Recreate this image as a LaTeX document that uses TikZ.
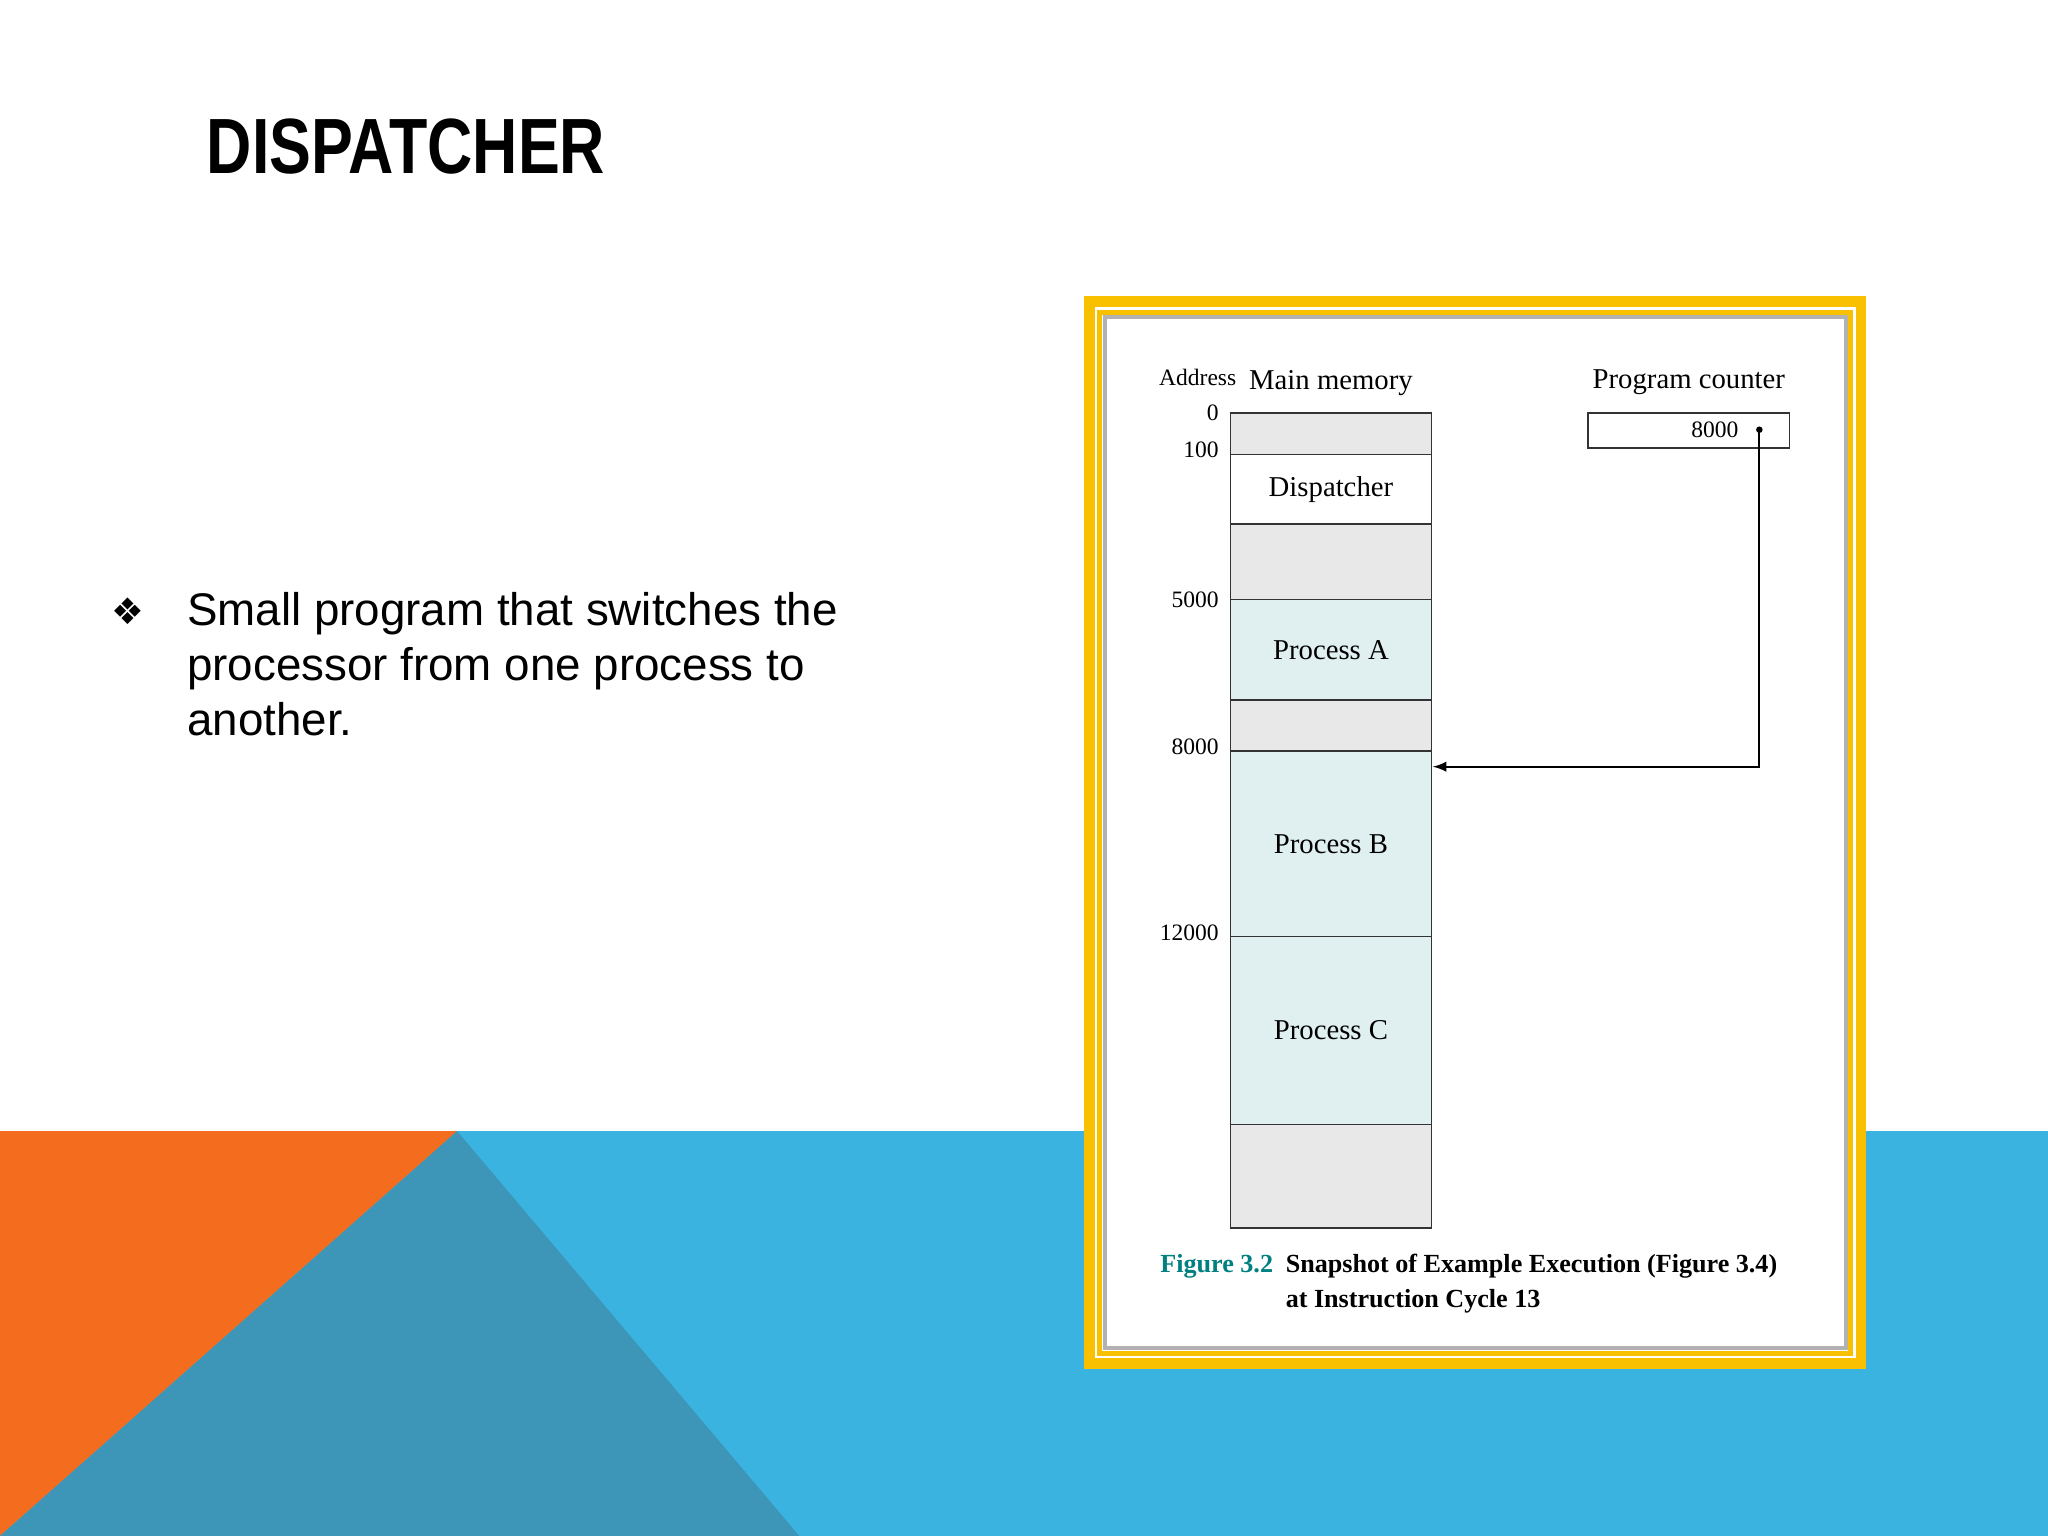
\documentclass[tikz,border=0pt]{standalone}
\usepackage{fontspec}
\setmainfont{Liberation Sans}
\newfontfamily\figfont{Liberation Serif}
\newfontfamily\symfont{DejaVu Sans}
\begin{document}
\begin{tikzpicture}[x=0.5pt,y=-0.5pt,
  mem/.style={draw=black!80,line width=0.6pt},
  gr/.style={mem,fill=gray!18},
  pr/.style={mem,fill=teal!12},
  ft/.style={font=\figfont\fontsize{11}{13}\selectfont},
  capf/.style={anchor=base west,inner sep=0pt,font=\figfont\bfseries\fontsize{10}{12}\selectfont},
  addr/.style={font=\figfont\fontsize{9}{11}\selectfont,anchor=east}]
\definecolor{orng}{HTML}{F46D1F}
\definecolor{lblue}{HTML}{3BB3E0}
\definecolor{dblue}{HTML}{3D96B8}
\definecolor{ylw}{HTML}{F9C000}
\useasboundingbox (0,0) rectangle (1568,1176);
\fill[white] (0,0) rectangle (1568,1176);
\fill[lblue] (0,866) rectangle (1568,1176);
\fill[orng] (0,866) -- (350,866) -- (0,1176) -- cycle;
\fill[dblue] (350,866) -- (612,1176) -- (0,1176) -- cycle;
\node[anchor=base west,inner sep=0pt,font=\bfseries\fontsize{30}{36}\selectfont] (title) at (158,133) {\scalebox{0.8}[1]{DISPATCHER}};
\node[anchor=base,font=\symfont\fontsize{14}{18}\selectfont] (bul) at (98,478) {❖};
\node[anchor=north west,align=left,inner sep=0pt,font=\fontsize{17.5}{21}\selectfont] (txt) at (143,453)
 {Small program that switches the\\processor from one process to\\another.};
% frame
\fill[ylw] (830,227) rectangle (1429,1048);
\fill[white] (838,235) rectangle (1421,1040);
\draw[ylw,line width=2pt] (842,239) rectangle (1417,1036);
\fill[white] (846,243) rectangle (1413,1032);
\draw[gray!60,line width=1.5pt] (846,243) rectangle (1413,1032);
% memory
\draw[gr] (942,316) rectangle (1096,348);
\draw[mem,fill=white] (942,348) rectangle node[ft] (disp) {Dispatcher} (1096,401);
\draw[gr] (942,401) rectangle (1096,459);
\draw[pr] (942,459) rectangle node[ft] (pa) {Process A} (1096,536);
\draw[gr] (942,536) rectangle (1096,575);
\draw[pr] (942,575) rectangle node[ft] (pb) {Process B} (1096,717);
\draw[pr] (942,717) rectangle node[ft] (pc) {Process C} (1096,861);
\draw[gr] (942,861) rectangle (1096,940);
\coordinate (tgt) at (1097,587);
\node[addr] at (940,316) {0};
\node[addr] at (940,344) {100};
\node[addr] at (940,459) {5000};
\node[addr] at (940,572) {8000};
\node[addr] at (940,714) {12000};
\node[font=\figfont\fontsize{9}{11}\selectfont] (ad) at (917,289) {Address};
\node[ft] (mm) at (1019,293) {Main memory};
\node[ft] (pcl) at (1293,293) {Program counter};
\draw[mem] (1216,316) rectangle (1370,343);
\node[font=\figfont\fontsize{9}{11}\selectfont] (pcv) at (1313,329) {8000};
\coordinate (dot) at (1347,329);
\fill (dot) circle (2.5);
\draw[line width=0.8pt,-latex] (dot) |- (tgt);
\node[capf,text=teal] (fig) at (888,974) {Figure 3.2};
\node[capf] (cap) at (984,974) {Snapshot of Example Execution (Figure 3.4)};
\node[capf] (cap2) at (984,1001) {at Instruction Cycle 13};
\end{tikzpicture}
\end{document}
